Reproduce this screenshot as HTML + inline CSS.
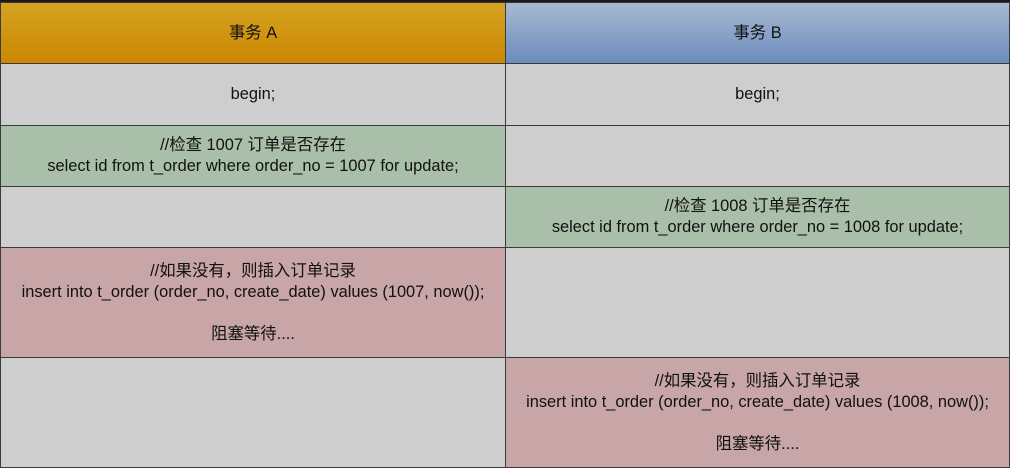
<!DOCTYPE html>
<html><head><meta charset="utf-8"><style>
body{margin:0;width:1010px;height:468px;background:#1a1a1a;position:relative;overflow:hidden;font-family:"Liberation Sans","Noto Sans CJK SC",sans-serif;font-size:16.4px;color:#111}
.c{position:absolute;box-sizing:border-box;display:flex;align-items:center;justify-content:center;text-align:center;line-height:21px;border:1px solid #3a3a3a}
.g{background:#cfcecf}.gr{background:#a9bfa9}.p{background:#c8a5a6}
</style></head><body>
<div class="c" style="left:0;top:2px;width:506px;height:62px;background:linear-gradient(#d4a421,#cc8702)">事务 A</div>
<div class="c" style="left:505px;top:2px;width:505px;height:62px;background:linear-gradient(#a9b9d0,#6a8cbe)">事务 B</div>
<div class="c g" style="left:0;top:63px;width:506px;height:63px">begin;</div>
<div class="c g" style="left:505px;top:63px;width:505px;height:63px">begin;</div>
<div class="c gr" style="left:0;top:125px;width:506px;height:62px">//检查 1007 订单是否存在<br>select id from t_order where order_no = 1007 for update;</div>
<div class="c g" style="left:505px;top:125px;width:505px;height:62px"></div>
<div class="c g" style="left:0;top:186px;width:506px;height:62px"></div>
<div class="c gr" style="left:505px;top:186px;width:505px;height:62px">//检查 1008 订单是否存在<br>select id from t_order where order_no = 1008 for update;</div>
<div class="c p" style="left:0;top:247px;width:506px;height:111px">//如果没有，则插入订单记录<br>insert into t_order (order_no, create_date) values (1007, now());<br><br>阻塞等待....</div>
<div class="c g" style="left:505px;top:247px;width:505px;height:111px"></div>
<div class="c g" style="left:0;top:357px;width:506px;height:111px"></div>
<div class="c p" style="left:505px;top:357px;width:505px;height:111px">//如果没有，则插入订单记录<br>insert into t_order (order_no, create_date) values (1008, now());<br><br>阻塞等待....</div>
</body></html>
